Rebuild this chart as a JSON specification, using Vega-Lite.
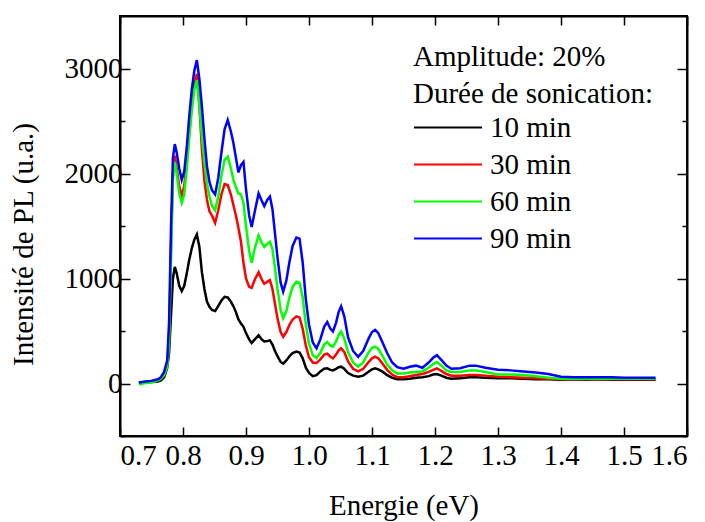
{
  "$schema": "https://vega.github.io/schema/vega-lite/v6.json",
  "width": 567,
  "height": 420,
  "autosize": "none",
  "padding": {"left": 120, "top": 16, "right": 18, "bottom": 86},
  "background": "white",
  "config": {
    "font": "Nimbus Roman",
    "view": {"stroke": "black", "strokeWidth": 2},
    "axis": {"domainColor": "black", "domainWidth": 2, "tickColor": "black", "tickWidth": 1.5, "labelColor": "black", "titleColor": "black", "labelFont": "Nimbus Roman", "titleFont": "Nimbus Roman", "labelFontSize": 29, "titleFontSize": 29, "titleFontWeight": "normal", "grid": false},
    "legend": {"labelFont": "Nimbus Roman", "titleFont": "Nimbus Roman"}
  },
  "data": {"values": [
    {"e":0.730,"10 min":0,"30 min":5,"60 min":-10,"90 min":10},
    {"e":0.740,"10 min":10,"30 min":15,"60 min":5,"90 min":20},
    {"e":0.750,"10 min":15,"30 min":25,"60 min":10,"90 min":25},
    {"e":0.760,"10 min":20,"30 min":35,"60 min":30,"90 min":40},
    {"e":0.765,"10 min":30,"30 min":50,"60 min":45,"90 min":60},
    {"e":0.770,"10 min":60,"30 min":80,"60 min":80,"90 min":110},
    {"e":0.775,"10 min":150,"30 min":170,"60 min":160,"90 min":220},
    {"e":0.778,"10 min":300,"30 min":450,"60 min":400,"90 min":600},
    {"e":0.781,"10 min":650,"30 min":1300,"60 min":1200,"90 min":1500},
    {"e":0.784,"10 min":1000,"30 min":2000,"60 min":1950,"90 min":2150},
    {"e":0.787,"10 min":1110,"30 min":2170,"60 min":2110,"90 min":2280},
    {"e":0.790,"10 min":1050,"30 min":2050,"60 min":2000,"90 min":2200},
    {"e":0.794,"10 min":930,"30 min":1880,"60 min":1810,"90 min":2050},
    {"e":0.798,"10 min":880,"30 min":1790,"60 min":1720,"90 min":1940},
    {"e":0.802,"10 min":930,"30 min":1880,"60 min":1800,"90 min":2020},
    {"e":0.806,"10 min":1050,"30 min":2100,"60 min":2050,"90 min":2250},
    {"e":0.810,"10 min":1180,"30 min":2400,"60 min":2350,"90 min":2550},
    {"e":0.814,"10 min":1290,"30 min":2650,"60 min":2600,"90 min":2800},
    {"e":0.818,"10 min":1370,"30 min":2850,"60 min":2800,"90 min":2980},
    {"e":0.822,"10 min":1420,"30 min":2950,"60 min":2890,"90 min":3080},
    {"e":0.826,"10 min":1300,"30 min":2650,"60 min":2650,"90 min":2900},
    {"e":0.830,"10 min":1060,"30 min":2230,"60 min":2350,"90 min":2640},
    {"e":0.834,"10 min":900,"30 min":1930,"60 min":2100,"90 min":2330},
    {"e":0.838,"10 min":780,"30 min":1750,"60 min":1910,"90 min":2070},
    {"e":0.842,"10 min":730,"30 min":1640,"60 min":1780,"90 min":1920},
    {"e":0.846,"10 min":700,"30 min":1600,"60 min":1690,"90 min":1840},
    {"e":0.851,"10 min":690,"30 min":1530,"60 min":1650,"90 min":1800},
    {"e":0.856,"10 min":740,"30 min":1650,"60 min":1780,"90 min":1960},
    {"e":0.861,"10 min":790,"30 min":1800,"60 min":1980,"90 min":2200},
    {"e":0.866,"10 min":825,"30 min":1900,"60 min":2130,"90 min":2420},
    {"e":0.871,"10 min":820,"30 min":1890,"60 min":2160,"90 min":2510},
    {"e":0.876,"10 min":780,"30 min":1800,"60 min":2050,"90 min":2400},
    {"e":0.880,"10 min":735,"30 min":1700,"60 min":1940,"90 min":2290},
    {"e":0.884,"10 min":680,"30 min":1600,"60 min":1870,"90 min":2150},
    {"e":0.888,"10 min":610,"30 min":1480,"60 min":1810,"90 min":2010},
    {"e":0.892,"10 min":570,"30 min":1350,"60 min":1800,"90 min":2080},
    {"e":0.896,"10 min":540,"30 min":1150,"60 min":1720,"90 min":2110},
    {"e":0.900,"10 min":480,"30 min":1000,"60 min":1500,"90 min":1850},
    {"e":0.905,"10 min":420,"30 min":920,"60 min":1260,"90 min":1600},
    {"e":0.909,"10 min":385,"30 min":910,"60 min":1150,"90 min":1490},
    {"e":0.914,"10 min":420,"30 min":990,"60 min":1290,"90 min":1640},
    {"e":0.920,"10 min":460,"30 min":1060,"60 min":1410,"90 min":1810},
    {"e":0.925,"10 min":420,"30 min":990,"60 min":1340,"90 min":1740},
    {"e":0.929,"10 min":400,"30 min":950,"60 min":1300,"90 min":1690},
    {"e":0.934,"10 min":405,"30 min":970,"60 min":1330,"90 min":1750},
    {"e":0.938,"10 min":410,"30 min":985,"60 min":1350,"90 min":1780},
    {"e":0.942,"10 min":370,"30 min":900,"60 min":1280,"90 min":1660},
    {"e":0.946,"10 min":310,"30 min":760,"60 min":1100,"90 min":1430},
    {"e":0.950,"10 min":260,"30 min":620,"60 min":900,"90 min":1200},
    {"e":0.955,"10 min":205,"30 min":490,"60 min":700,"90 min":960},
    {"e":0.959,"10 min":190,"30 min":445,"60 min":620,"90 min":875},
    {"e":0.964,"10 min":220,"30 min":490,"60 min":690,"90 min":980},
    {"e":0.969,"10 min":260,"30 min":560,"60 min":820,"90 min":1160},
    {"e":0.974,"10 min":290,"30 min":610,"60 min":920,"90 min":1310},
    {"e":0.980,"10 min":305,"30 min":640,"60 min":970,"90 min":1390},
    {"e":0.985,"10 min":295,"30 min":630,"60 min":960,"90 min":1380},
    {"e":0.990,"10 min":240,"30 min":520,"60 min":820,"90 min":1150},
    {"e":0.995,"10 min":150,"30 min":360,"60 min":560,"90 min":800},
    {"e":1.000,"10 min":100,"30 min":250,"60 min":380,"90 min":560},
    {"e":1.006,"10 min":70,"30 min":200,"60 min":270,"90 min":390},
    {"e":1.012,"10 min":80,"30 min":195,"60 min":240,"90 min":335},
    {"e":1.018,"10 min":115,"30 min":230,"60 min":290,"90 min":420},
    {"e":1.024,"10 min":140,"30 min":275,"60 min":370,"90 min":540},
    {"e":1.029,"10 min":145,"30 min":285,"60 min":395,"90 min":585},
    {"e":1.034,"10 min":130,"30 min":255,"60 min":360,"90 min":520},
    {"e":1.038,"10 min":125,"30 min":240,"60 min":350,"90 min":495},
    {"e":1.043,"10 min":140,"30 min":275,"60 min":400,"90 min":580},
    {"e":1.047,"10 min":155,"30 min":315,"60 min":460,"90 min":680},
    {"e":1.051,"10 min":160,"30 min":335,"60 min":495,"90 min":735},
    {"e":1.056,"10 min":140,"30 min":300,"60 min":430,"90 min":640},
    {"e":1.062,"10 min":100,"30 min":210,"60 min":300,"90 min":440},
    {"e":1.070,"10 min":75,"30 min":140,"60 min":200,"90 min":310},
    {"e":1.078,"10 min":65,"30 min":115,"60 min":160,"90 min":255},
    {"e":1.086,"10 min":75,"30 min":140,"60 min":200,"90 min":310},
    {"e":1.094,"10 min":110,"30 min":200,"60 min":290,"90 min":420},
    {"e":1.100,"10 min":135,"30 min":240,"60 min":340,"90 min":490},
    {"e":1.105,"10 min":145,"30 min":255,"60 min":350,"90 min":510},
    {"e":1.110,"10 min":135,"30 min":240,"60 min":330,"90 min":480},
    {"e":1.116,"10 min":115,"30 min":195,"60 min":270,"90 min":400},
    {"e":1.124,"10 min":80,"30 min":130,"60 min":180,"90 min":290},
    {"e":1.132,"10 min":55,"30 min":85,"60 min":125,"90 min":200},
    {"e":1.140,"10 min":40,"30 min":60,"60 min":95,"90 min":155},
    {"e":1.150,"10 min":40,"30 min":60,"60 min":95,"90 min":140},
    {"e":1.160,"10 min":45,"30 min":70,"60 min":105,"90 min":160},
    {"e":1.170,"10 min":55,"30 min":80,"60 min":110,"90 min":170},
    {"e":1.180,"10 min":60,"30 min":90,"60 min":115,"90 min":150},
    {"e":1.190,"10 min":70,"30 min":110,"60 min":150,"90 min":200},
    {"e":1.197,"10 min":85,"30 min":130,"60 min":185,"90 min":245},
    {"e":1.203,"10 min":90,"30 min":145,"60 min":205,"90 min":270},
    {"e":1.210,"10 min":75,"30 min":120,"60 min":170,"90 min":225},
    {"e":1.218,"10 min":55,"30 min":90,"60 min":125,"90 min":170},
    {"e":1.226,"10 min":45,"30 min":75,"60 min":110,"90 min":140},
    {"e":1.240,"10 min":50,"30 min":75,"60 min":110,"90 min":145},
    {"e":1.255,"10 min":60,"30 min":80,"60 min":125,"90 min":170},
    {"e":1.265,"10 min":60,"30 min":80,"60 min":125,"90 min":170},
    {"e":1.280,"10 min":55,"30 min":75,"60 min":110,"90 min":150},
    {"e":1.300,"10 min":50,"30 min":65,"60 min":85,"90 min":130},
    {"e":1.320,"10 min":50,"30 min":60,"60 min":85,"90 min":125},
    {"e":1.340,"10 min":45,"30 min":55,"60 min":80,"90 min":115},
    {"e":1.360,"10 min":40,"30 min":50,"60 min":70,"90 min":105},
    {"e":1.380,"10 min":40,"30 min":45,"60 min":55,"90 min":90},
    {"e":1.400,"10 min":35,"30 min":40,"60 min":45,"90 min":65},
    {"e":1.420,"10 min":40,"30 min":40,"60 min":45,"90 min":60},
    {"e":1.440,"10 min":35,"30 min":40,"60 min":45,"90 min":60},
    {"e":1.460,"10 min":40,"30 min":40,"60 min":45,"90 min":60},
    {"e":1.480,"10 min":35,"30 min":40,"60 min":45,"90 min":60},
    {"e":1.500,"10 min":35,"30 min":40,"60 min":45,"90 min":55},
    {"e":1.520,"10 min":35,"30 min":40,"60 min":45,"90 min":55},
    {"e":1.550,"10 min":35,"30 min":40,"60 min":45,"90 min":55}
  ]},
  "transform": [{"fold": ["10 min", "30 min", "60 min", "90 min"], "as": ["serie", "val"]}],
  "layer": [
    {
      "mark": {"type": "line", "strokeWidth": 2.5, "clip": true},
      "encoding": {
        "x": {"field": "e", "type": "quantitative", "scale": {"domain": [0.7, 1.6], "nice": false, "zero": false},
          "axis": {"values": [0.7, 0.8, 0.9, 1.0, 1.1, 1.2, 1.3, 1.4, 1.5, 1.6], "format": ".1f", "tickSize": -9, "labelPadding": 14, "title": "Energie (eV)", "titlePadding": 21}},
        "y": {"field": "val", "type": "quantitative", "scale": {"domain": [-500, 3500], "nice": false, "zero": false},
          "axis": {"values": [-500, 0, 500, 1000, 1500, 2000, 2500, 3000], "format": "d", "labelExpr": "datum.value % 1000 === 0 ? datum.label : ''",
            "tickSize": {"condition": {"test": "datum.value % 1000 === 0", "value": -10}, "value": -5}, "labelPadding": 8, "title": "Intensité de PL (u.a.)", "titlePadding": 26, "titleY": 228}},
        "color": {"field": "serie", "type": "nominal",
          "scale": {"domain": ["10 min", "30 min", "60 min", "90 min"], "range": ["#000000", "#ff0000", "#00ff00", "#0000ff"]},
          "legend": {"orient": "none", "legendX": 293, "legendY": 27, "padding": 0, "offset": 0,
            "title": ["Amplitude: 20%", "Durée de sonication:"], "titleFontSize": 29, "titleFontWeight": "normal", "titleColor": "black", "titleLineHeight": 37, "titlePadding": 0, "titleLimit": 0,
            "labelFontSize": 29, "labelColor": "black", "labelOffset": 7, "labelLimit": 0, "clipHeight": 37,
            "symbolType": "stroke", "symbolSize": 4624, "symbolStrokeWidth": 2, "rowPadding": 0}}
      }
    },
    {
      "mark": {"type": "point", "opacity": 0},
      "encoding": {
        "x": {"field": "e", "type": "quantitative", "axis": {"orient": "top", "values": [0.7, 0.8, 0.9, 1.0, 1.1, 1.2, 1.3, 1.4, 1.5, 1.6], "labels": false, "tickSize": -9, "title": null}},
        "y": {"field": "val", "type": "quantitative", "axis": {"orient": "right", "values": [-500, 0, 500, 1000, 1500, 2000, 2500, 3000], "labels": false,
          "tickSize": {"condition": {"test": "datum.value % 1000 === 0", "value": -10}, "value": -5}, "title": null}}
      }
    }
  ],
  "resolve": {"axis": {"x": "independent", "y": "independent"}}
}
